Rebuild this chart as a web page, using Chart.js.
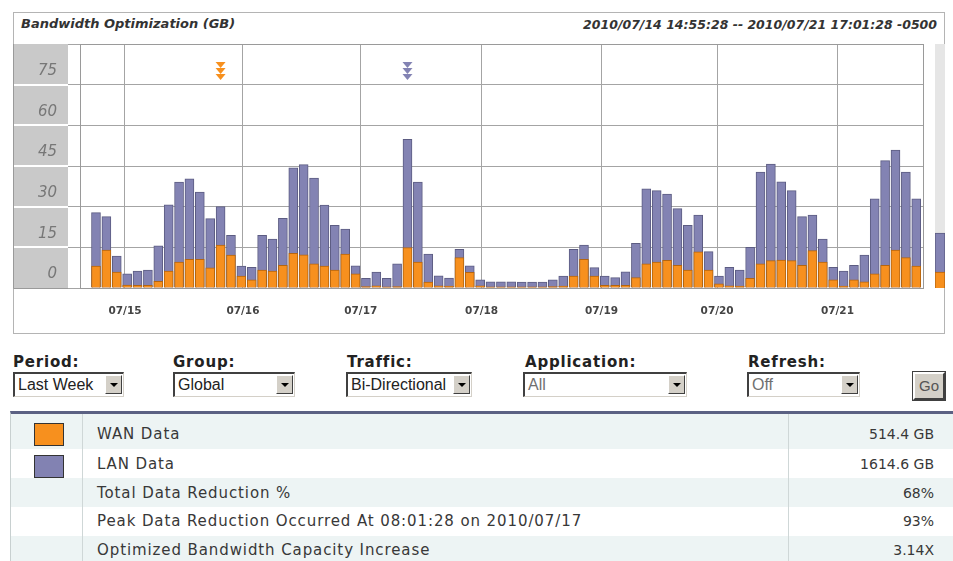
<!DOCTYPE html>
<html>
<head>
<meta charset="utf-8">
<script src="https://cdn.jsdelivr.net/npm/chart.js@4.4.0/dist/chart.umd.min.js"></script>
<style>
  body { margin: 0; width: 953px; height: 561px; overflow: hidden; background: #fff; position: relative; font-family: "DejaVu Sans", sans-serif; }
  .abs { position: absolute; }
  #frame { left: 13px; top: 12px; width: 932px; height: 322px; border: 1px solid #b4b4b4; box-sizing: border-box; }
  #title { left: 21px; top: 16px; font: italic bold 13px "DejaVu Sans"; color: #333; }
  #range { right: 16px; top: 17px; font: italic bold 12.5px "DejaVu Sans"; color: #333; }
  #chart { left: 13px; top: 36px; }
  #mini { left: 935px; top: 44px; background: #e6e6e6; }
  .lbl { font: bold 15px "DejaVu Sans"; letter-spacing: 0.8px; color: #222; top: 353px; }
  .sel { top: 372px; height: 25px; box-sizing: border-box; background: #fff;
         border-top: 2px solid #404040; border-left: 2px solid #404040;
         border-right: 1px solid #d4d0c8; border-bottom: 1px solid #d4d0c8;
         font: 16px "Liberation Sans"; color: #222; padding-left: 3px; line-height: 21px; white-space: nowrap; overflow: hidden; }
  .sel.dim { color: #707070; }
  .arr { position: absolute; right: 1px; top: 1px; width: 17px; height: 19px; box-sizing: border-box; background: #d4d0c8;
         border: 1px solid; border-color: #fff #404040 #404040 #fff; }
  .arr:after { content: ""; position: absolute; left: 4px; top: 7px; border-left: 4px solid transparent; border-right: 4px solid transparent; border-top: 4px solid #000; }
  #go { left: 913px; top: 372px; width: 32px; height: 28px; box-sizing: border-box; background: #d4d0c8;
        border: 2px solid; border-color: #fff #404040 #404040 #fff; outline: 1px solid #404040;
        font: 15px "Liberation Sans"; color: #555; text-align: center; line-height: 24px; }
  #tbl { left: 10px; top: 411px; width: 943px; height: 150px; border-top: 3px solid #5b6183; border-left: 1px solid #c8d0d0; }
  .row { position: absolute; left: 0; width: 943px; font: 14px "DejaVu Sans"; color: #383838; }
  .row.alt { background: #edf4f4; }
  .row .t { position: absolute; left: 86px; font-size: 15px; letter-spacing: 0.9px; }
  .row .v { position: absolute; right: 20px; }
  .vline { position: absolute; top: 0; width: 1px; height: 150px; background: #cfd7d7; }
  .sw { position: absolute; left: 23px; width: 30px; height: 23px; box-sizing: border-box; border: 1px solid #333; }
</style>
</head>
<body>
<div id="frame" class="abs"></div>
<div id="title" class="abs">Bandwidth Optimization (GB)</div>
<div id="range" class="abs">2010/07/14 14:55:28 -- 2010/07/21 17:01:28 -0500</div>
<canvas id="chart" class="abs" width="917" height="294"></canvas>
<canvas id="mini" class="abs" width="10" height="244"></canvas>

<div class="abs lbl" style="left:13px">Period:</div>
<div class="abs sel" style="left:13px;width:111px">Last Week<span class="arr"></span></div>
<div class="abs lbl" style="left:173px">Group:</div>
<div class="abs sel" style="left:173px;width:122px">Global<span class="arr"></span></div>
<div class="abs lbl" style="left:347px">Traffic:</div>
<div class="abs sel" style="left:346px;width:126px">Bi-Directional<span class="arr"></span></div>
<div class="abs lbl" style="left:525px">Application:</div>
<div class="abs sel dim" style="left:523px;width:164px">All<span class="arr"></span></div>
<div class="abs lbl" style="left:748px">Refresh:</div>
<div class="abs sel dim" style="left:747px;width:113px">Off<span class="arr"></span></div>
<div id="go" class="abs">Go</div>

<div id="tbl" class="abs">
  <div class="row alt" style="top:0;height:35px;line-height:40px"><div class="sw" style="top:9px;background:#f7901e"></div><span class="t">WAN Data</span><span class="v">514.4 GB</span></div>
  <div class="row" style="top:35px;height:29px;line-height:30px"><div class="sw" style="top:6px;background:#8282b2"></div><span class="t">LAN Data</span><span class="v">1614.6 GB</span></div>
  <div class="row alt" style="top:64px;height:29px;line-height:30px"><span class="t">Total Data Reduction %</span><span class="v">68%</span></div>
  <div class="row" style="top:93px;height:29px;line-height:29px"><span class="t">Peak Data Reduction Occurred At 08:01:28 on 2010/07/17</span><span class="v">93%</span></div>
  <div class="row alt" style="top:122px;height:29px;line-height:29px"><span class="t">Optimized Bandwidth Capacity Increase</span><span class="v">3.14X</span></div>
  <div class="vline" style="left:71px"></div>
  <div class="vline" style="left:777px"></div>
</div>

<script>
// *** data (GB per 2 hour interval) ***
const LAN_DATA = [
  27.8, 26.3, 11.8, 5.2, 6.2, 6.6, 15.6, 30.7, 39.1, 40.3,
  35.4, 25.6, 30.0, 19.4, 8.1, 7.6, 19.4, 18.0, 25.7, 44.3,
  45.5, 40.5, 30.6, 23.1, 21.7, 8.2, 3.6, 5.9, 3.6, 8.9,
  54.8, 39.1, 12.5, 4.5, 3.7, 14.3, 8.2, 3.0, 2.3, 2.3,
  2.3, 2.2, 2.2, 2.2, 3.0, 4.4, 14.3, 15.8, 7.5, 4.4,
  3.8, 6.0, 16.5, 36.6, 35.9, 34.6, 29.3, 23.1, 26.9, 13.4,
  4.4, 7.6, 6.6, 15.0, 42.8, 45.7, 39.2, 35.9, 26.3, 26.9,
  18.0, 7.6, 6.2, 8.4, 12.1, 32.9, 47.0, 50.9, 42.8, 32.9
];
const WAN_DATA = [
  8.1, 14.0, 5.9, 1.1, 1.0, 1.0, 2.5, 6.2, 9.6, 10.6,
  10.6, 7.4, 15.8, 12.1, 4.4, 3.0, 6.6, 6.2, 8.4, 12.8,
  12.2, 8.9, 8.1, 6.6, 12.5, 5.2, 0.5, 0.8, 0.4, 0.5,
  14.9, 9.6, 2.2, 0.8, 0.7, 11.2, 5.8, 0.8, 0.4, 0.4,
  0.4, 0.4, 0.4, 0.4, 0.5, 0.7, 4.4, 10.6, 4.4, 1.0,
  1.0, 1.0, 3.8, 8.9, 9.6, 10.2, 8.4, 6.6, 13.3, 6.6,
  1.5, 0.8, 0.7, 3.6, 8.9, 10.1, 10.3, 10.1, 8.4, 13.8,
  9.6, 3.0, 0.7, 3.0, 2.3, 5.2, 8.4, 14.0, 11.2, 8.1
];
// the partly visible interval at the right edge
const NEXT_LAN = [20.3];
const NEXT_WAN = [5.9];

// day boundaries, in interval units
const DAY_LABELS = ['07/15', '07/16', '07/17', '07/18', '07/19', '07/20', '07/21'];
const DAY_POS = [2.79, 14.15, 25.5, 37.14, 48.69, 59.82, 71.41];
const X_MIN = -1.54, X_MAX = 79.65;

// y labels sit inside each band, a bit above its lower grid line
const Y_LABELS = ['0', '15', '30', '45', '60', '75'];
const Y_STEP = 15, Y_MAX = 90, Y_LABEL_LIFT = 5;

const WAN_COLOR = '#f7901e', WAN_EDGE = '#b5650f';
const LAN_COLOR = '#8383b3', LAN_EDGE = '#5c5c82';

// *** helpers ***
function argmax(arr) {
    let k = 0;
    arr.forEach(function (v, i) { if (v > arr[k]) k = i; });
    return k;
}

// gray label boxes left of the plot + frame round the plot
const axisBoxes = {
    id: 'axisBoxes',
    beforeDraw: function (chart) {
        const c = chart.ctx, a = chart.chartArea, y = chart.scales.y;
        c.save();
        c.fillStyle = '#c9c9c9';
        c.fillRect(0, a.top, 55, a.bottom - a.top);
        c.fillStyle = '#fff';
        for (let v = Y_STEP; v < Y_MAX; v += Y_STEP) {
            c.fillRect(0, Math.round(y.getPixelForValue(v)) - 1, 55, 2);
        }
        c.strokeStyle = '#9a9a9a';
        c.lineWidth = 1;
        c.beginPath();
        c.moveTo(0.5, a.top); c.lineTo(0.5, a.bottom + 0.5); c.lineTo(55, a.bottom + 0.5);
        c.stroke();
        c.restore();
    },
    afterDraw: function (chart) {
        const c = chart.ctx, a = chart.chartArea;
        c.save();
        c.strokeStyle = '#9a9a9a';
        c.lineWidth = 1;
        c.strokeRect(Math.round(a.left) + 0.5, Math.round(a.top) + 0.5, Math.round(a.right - a.left), Math.round(a.bottom - a.top));
        c.restore();
    }
};

// peak markers (three stacked down triangles)
const peakMarks = {
    id: 'peakMarks',
    afterDatasetsDraw: function (chart) {
        const c = chart.ctx, a = chart.chartArea, x = chart.scales.x;
        [[argmax(WAN_DATA), WAN_COLOR], [argmax(LAN_DATA), LAN_COLOR]].forEach(function (m) {
            const px = x.getPixelForValue(m[0]);
            c.fillStyle = m[1];
            for (let i = 0; i < 3; i++) {
                const ty = a.top + 18 + i * 6;
                c.beginPath();
                c.moveTo(px - 5, ty);
                c.lineTo(px + 5, ty);
                c.lineTo(px, ty + 6);
                c.closePath();
                c.fill();
            }
        });
    }
};

const barStyle = { grouped: false, barThickness: 9, borderWidth: 1, borderSkipped: 'start' };

new Chart(document.getElementById('chart').getContext('2d'), {
    type: 'bar',
    data: {
        datasets: [
            Object.assign({ label: 'WAN Data', data: WAN_DATA.map(function (v, i) { return { x: i, y: v }; }),
                backgroundColor: WAN_COLOR, borderColor: WAN_EDGE, order: 1 }, barStyle),
            Object.assign({ label: 'LAN Data', data: LAN_DATA.map(function (v, i) { return { x: i, y: v }; }),
                backgroundColor: LAN_COLOR, borderColor: LAN_EDGE, order: 2 }, barStyle)
        ]
    },
    options: {
        responsive: false,
        animation: false,
        devicePixelRatio: 1,
        layout: { padding: { top: 8, right: 7, left: 0, bottom: 0 } },
        plugins: { legend: { display: false }, tooltip: { enabled: false } },
        scales: {
            x: {
                type: 'linear',
                min: X_MIN, max: X_MAX,
                offset: false,
                afterBuildTicks: function (s) { s.ticks = DAY_POS.map(function (v) { return { value: v }; }); },
                afterFit: function (s) { s.height = 42; s.paddingLeft = 0; s.paddingRight = 0; },
                grid: { offset: false, color: '#a4a4a4', drawTicks: false },
                border: { color: '#9a9a9a' },
                ticks: {
                    autoSkip: false, maxRotation: 0, padding: 17,
                    color: '#444', font: { family: 'DejaVu Sans', size: 10.5, weight: 'bold' },
                    callback: function (v, i) { return DAY_LABELS[i]; }
                }
            },
            y: {
                min: 0, max: Y_MAX,
                afterBuildTicks: function (s) {
                    const t = [];
                    for (let v = 0; v < Y_MAX; v += Y_STEP) {
                        t.push({ value: v });
                        t.push({ value: v + Y_LABEL_LIFT });
                    }
                    t.push({ value: Y_MAX });
                    s.ticks = t;
                },
                afterFit: function (s) { s.width = 67; s.paddingTop = 0; s.paddingBottom = 0; },
                grid: {
                    tickLength: 12,
                    color: function (ctx) { return ctx.tick && ctx.tick.value % Y_STEP === 0 ? '#a4a4a4' : 'rgba(0,0,0,0)'; }
                },
                border: { color: '#9a9a9a' },
                ticks: {
                    autoSkip: false,
                    padding: 11,
                    color: '#777', font: { family: 'DejaVu Sans', size: 15, style: 'italic' },
                    callback: function (v) {
                        return v % Y_STEP === Y_LABEL_LIFT ? Y_LABELS[Math.floor(v / Y_STEP)] : '';
                    }
                }
            }
        }
    },
    plugins: [axisBoxes, peakMarks]
});

// *** strip on the right: the next (partial) interval ***
new Chart(document.getElementById('mini').getContext('2d'), {
    type: 'bar',
    data: {
        labels: [''],
        datasets: [
            { data: NEXT_WAN, backgroundColor: WAN_COLOR, borderColor: WAN_EDGE, borderWidth: 1, grouped: false, order: 1,
              barPercentage: 1, categoryPercentage: 1 },
            { data: NEXT_LAN, backgroundColor: LAN_COLOR, borderColor: LAN_EDGE, borderWidth: 1, grouped: false, order: 2,
              barPercentage: 1, categoryPercentage: 1 }
        ]
    },
    options: {
        responsive: false, animation: false, devicePixelRatio: 1,
        layout: { padding: 0 },
        plugins: { legend: { display: false }, tooltip: { enabled: false } },
        scales: { x: { display: false }, y: { display: false, min: 0, max: Y_MAX } }
    }
});
</script>
</body>
</html>
